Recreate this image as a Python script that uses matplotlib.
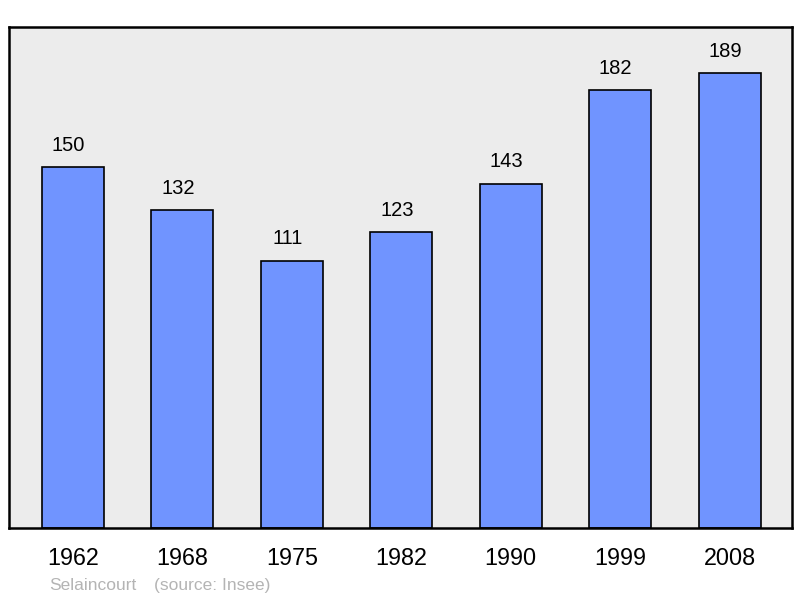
import matplotlib
matplotlib.use('Agg')
import matplotlib.pyplot as plt

plt.rcParams['font.family'] = ['Liberation Sans', 'DejaVu Sans']

years = ['1962', '1968', '1975', '1982', '1990', '1999', '2008']
population = [150, 132, 111, 123, 143, 182, 189]
commune = 'Selaincourt'
source = '(source: Insee)'

fig = plt.figure(figsize=(8, 5.98), dpi=100)
# axes box in pixels: left 9, right 792, top 27, bottom 528
ax = fig.add_axes([9 / 800, 1 - 528 / 598, 783 / 800, 501 / 598])
ax.set_facecolor('#ececec')

x = list(range(len(years)))
ax.bar(x, population, width=0.567, color='#7094ff', edgecolor='black',
       linewidth=1.2, zorder=2)
# les étiquettes sont un peu décalées à gauche dans l'original
for xi, v in zip(x, population):
    ax.annotate(str(v), (xi, v), xytext=(-3.2, 9), textcoords='offset points',
                ha='center', va='bottom', fontsize=14.5)

ax.set_xlim(-0.585, 6.571)
ax.set_ylim(0, 208.2)
ax.set_yticks([])
ax.set_xticks(x)
ax.set_xticklabels(years, fontsize=16.8)
ax.tick_params(axis='x', length=0, pad=14)
for s in ax.spines.values():
    s.set_linewidth(1.8)
    s.set_color('black')

fig.text(49 / 800, 1 - 590 / 598, commune, color='#b4b4b4', fontsize=12.5,
         va='baseline', ha='left')
fig.text(154 / 800, 1 - 590 / 598, source, color='#b4b4b4', fontsize=12.5,
         va='baseline', ha='left')

fig.savefig('out.png', dpi=100)
